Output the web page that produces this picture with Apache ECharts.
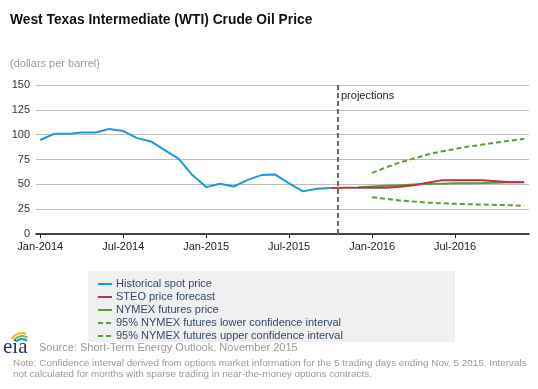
<!DOCTYPE html>
<html>
<head>
<meta charset="utf-8">
<script src="https://cdn.jsdelivr.net/npm/echarts@6/dist/echarts.min.js"></script>
<style>
html,body{margin:0;padding:0;background:#fff;}
#chart{width:538px;height:389px;}
</style>
</head>
<body>
<div id="chart"></div>
<script>
// Month labels, Jan-2014 .. Dec-2016 (index 0..35)
const months = [
  'Jan-2014','Feb-2014','Mar-2014','Apr-2014','May-2014','Jun-2014','Jul-2014','Aug-2014','Sep-2014','Oct-2014','Nov-2014','Dec-2014',
  'Jan-2015','Feb-2015','Mar-2015','Apr-2015','May-2015','Jun-2015','Jul-2015','Aug-2015','Sep-2015','Oct-2015','Nov-2015','Dec-2015',
  'Jan-2016','Feb-2016','Mar-2016','Apr-2016','May-2016','Jun-2016','Jul-2016','Aug-2016','Sep-2016','Oct-2016','Nov-2016','Dec-2016'
];
const tickMonths = [0, 6, 12, 18, 24, 30];
const yTicks = [0, 25, 50, 75, 100, 125, 150];

// Historical spot price, Jan-2014 .. Oct-2015
const historicalStart = 0;
const historical = [94.6, 100.8, 100.8, 102.1, 102.2, 105.8, 103.6, 96.5, 93.2, 84.4, 75.8, 59.3,
                    47.2, 50.6, 47.8, 54.5, 59.3, 59.8, 50.9, 42.9, 45.5, 46.2];
// STEO price forecast, Oct-2015 .. Dec-2016
const steoStart = 21;
const steo = [46.2, 46.5, 46.5, 46.5, 46.5, 47.5, 49.0, 51.5, 54.0, 54.0, 54.0, 54.0, 53.0, 52.0, 52.0];
// NYMEX futures price, Dec-2015 .. Dec-2016
const nymexStart = 23;
const nymex = [47.0, 47.8, 48.5, 49.2, 49.8, 50.3, 50.7, 51.0, 51.2, 51.4, 51.7, 52.0, 52.3];
// 95% confidence intervals, Jan-2016 .. Dec-2016
const ciStart = 24;
const lowerCI = [37.0, 35.4, 33.8, 32.6, 31.6, 31.0, 30.4, 30.0, 29.6, 29.3, 29.0, 28.4];
const upperCI = [61.5, 67.0, 72.0, 76.0, 80.0, 83.0, 85.7, 88.0, 90.0, 92.0, 94.0, 95.8];
const projectionsAt = 21.5;

function pairs(start, arr) { return arr.map((v, i) => [start + i, v]); }

const seriesNames = ['Historical spot price', 'STEO price forecast', 'NYMEX futures price',
  '95% NYMEX futures lower confidence interval', '95% NYMEX futures upper confidence interval'];

const blue = '#1a9ad8', red = '#b0384a', green = '#5f9c37';

const chart = echarts.init(document.getElementById('chart'), null, {renderer: 'canvas'});
chart.setOption({
  animation: false,
  textStyle: {fontFamily: 'Liberation Sans, Arial, sans-serif'},
  title: {
    text: 'West Texas Intermediate (WTI) Crude Oil Price',
    left: 5, top: 8,
    textStyle: {fontSize: 13.8, fontWeight: 'bold', color: '#111'}
  },
  grid: {left: 36, right: 9, top: 85, bottom: 155},
  xAxis: {
    type: 'value', min: -0.31, max: 35.35,
    splitLine: {show: false},
    axisLine: {show: true, onZero: false, lineStyle: {color: '#111', width: 1.5}},
    axisTick: {show: true, length: 4, customValues: tickMonths, lineStyle: {color: '#111'}},
    axisLabel: {customValues: tickMonths, color: '#222', fontSize: 11, margin: 7,
      formatter: v => months[Math.round(v)] || ''}
  },
  yAxis: {
    type: 'value', min: 0, max: 150, interval: 25,
    axisLine: {show: false}, axisTick: {show: false},
    splitLine: {lineStyle: {color: '#bdbdbd', width: 1}},
    axisLabel: {color: '#333', fontSize: 11, margin: 6}
  },
  legend: {
    orient: 'vertical', left: 97, top: 278,
    padding: 0, itemGap: 1, itemWidth: 14, itemHeight: 12,
    itemStyle: {opacity: 0},
    textStyle: {fontSize: 11, lineHeight: 12, color: '#34496a', padding: [0, 0, 0, -1]},
    data: seriesNames
  },
  graphic: [
    {type: 'rect', shape: {x: 88, y: 271, width: 367, height: 71}, style: {fill: '#f0f0f0'}, z: -10, silent: true},
    {type: 'text', x: 10, y: 58, style: {text: '(dollars per barrel)', fill: '#9a9a9a', font: '11px Liberation Sans, Arial, sans-serif'}},
    {type: 'text', x: 341, y: 90, style: {text: 'projections', fill: '#222', font: '11px Liberation Sans, Arial, sans-serif'}, z: 10},
    {type: 'text', x: 39, y: 342, style: {text: 'Source: Short-Term Energy Outlook, November 2015', fill: '#9a9a9a', font: '11px Liberation Sans, Arial, sans-serif'}},
    {type: 'text', x: 13, y: 358, style: {text: 'Note: Confidence interval derived from options market information for the 5 trading days ending Nov. 5 2015. Intervals\nnot calculated for months with sparse trading in near-the-money options contracts.', fill: '#9a9a9a', font: '9.9px Liberation Sans, Arial, sans-serif', lineHeight: 11}},
    {type: 'text', x: 3, y: 337, style: {text: 'eia', fill: '#1b3a63', font: '21px Liberation Serif, DejaVu Serif, serif'}},
    {type: 'arc', shape: {cx: 22, cy: 345, r: 12, startAngle: -2.6, endAngle: -1.2}, style: {stroke: '#f2b705', lineWidth: 2, fill: null}},
    {type: 'arc', shape: {cx: 22, cy: 346, r: 10, startAngle: -2.5, endAngle: -1.0}, style: {stroke: '#7ab648', lineWidth: 2, fill: null}},
    {type: 'arc', shape: {cx: 22, cy: 347, r: 8, startAngle: -2.4, endAngle: -0.9}, style: {stroke: '#1a9ad8', lineWidth: 2, fill: null}}
  ],
  series: [
    {name: seriesNames[0], type: 'line', data: pairs(historicalStart, historical), symbol: 'none',
      lineStyle: {color: blue, width: 2}, itemStyle: {color: blue}, z: 3,
      markLine: {silent: true, symbol: 'none', label: {show: false},
        lineStyle: {color: '#666', type: [5, 3], width: 2},
        data: [{xAxis: projectionsAt}]}},
    {name: seriesNames[3], type: 'line', data: pairs(ciStart, lowerCI), symbol: 'none',
      lineStyle: {color: green, width: 2, type: [5, 3]}, itemStyle: {color: green}, z: 2},
    {name: seriesNames[4], type: 'line', data: pairs(ciStart, upperCI), symbol: 'none',
      lineStyle: {color: green, width: 2, type: [5, 3]}, itemStyle: {color: green}, z: 2},
    {name: seriesNames[2], type: 'line', data: pairs(nymexStart, nymex), symbol: 'none',
      lineStyle: {color: green, width: 2}, itemStyle: {color: green}, z: 3},
    {name: seriesNames[1], type: 'line', data: pairs(steoStart, steo), symbol: 'none',
      lineStyle: {color: red, width: 2}, itemStyle: {color: red}, z: 4}
  ]
});
</script>
</body>
</html>
